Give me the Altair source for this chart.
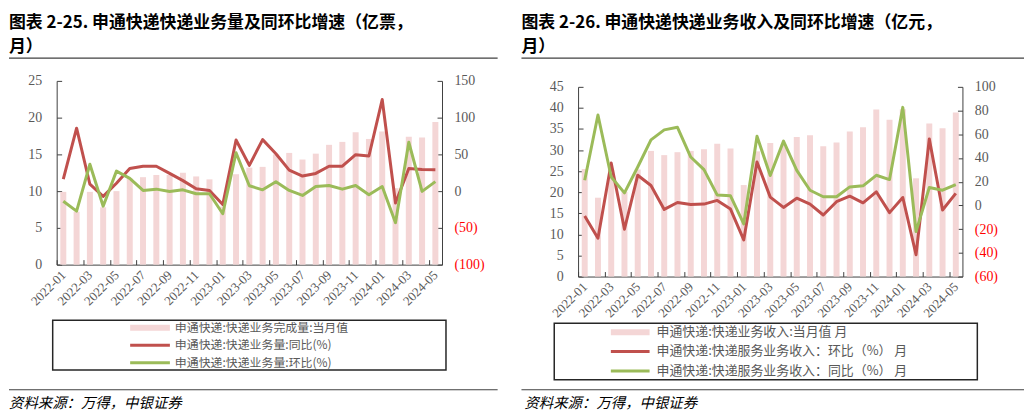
import altair as alt
import pandas as pd

months = ["2022-01", "2022-02", "2022-03", "2022-04", "2022-05", "2022-06",
          "2022-07", "2022-08", "2022-09", "2022-10", "2022-11", "2022-12",
          "2023-01", "2023-02", "2023-03", "2023-04", "2023-05", "2023-06",
          "2023-07", "2023-08", "2023-09", "2023-10", "2023-11", "2023-12",
          "2024-01", "2024-02", "2024-03", "2024-04", "2024-05"]
tick_months = ["2022-01", "2022-03", "2022-05", "2022-07", "2022-09", "2022-11",
               "2023-01", "2023-03", "2023-05", "2023-07", "2023-09", "2023-11",
               "2024-01", "2024-03", "2024-05"]

# left panel: volume (亿票) and growth (%)
vol_month = [9.9, 7.2, 9.9, 7.8, 10.0, 11.7, 11.9, 12.2, 12.2, 12.5, 12.0, 11.6,
             7.9, 12.3, 13.2, 13.3, 15.0, 15.2, 14.3, 15.1, 16.3, 16.7, 18.0, 17.1,
             18.1, 10.4, 17.4, 17.3, 19.4]
vol_yoy = [16.5, 85.7, 9.4, -7.1, 10.7, 30.8, 33.9, 33.9, 24.1, 14.3, 3.1, 0.9,
           -18.3, 69.6, 35.0, 70.1, 50.9, 28.6, 20.5, 24.1, 33.9, 33.9, 49.6, 47.8,
           124.6, -16.1, 30.8, 29.5, 29.0]
vol_mom = [-13.8, -27.2, 36.6, -20.5, 27.2, 17.4, 0.9, 2.7, -0.4, 1.8, -3.6, -3.6,
           -30.8, 52.2, 7.3, 1.8, 12.9, 0.9, -5.8, 6.3, 7.6, 2.7, 7.6, -4.9,
           6.3, -42.9, 66.5, -0.4, 12.9]

# right panel: revenue (亿元) and growth (%)
rev_month = [25.5, 18.7, 25.3, 20.1, 25.4, 29.8, 28.8, 29.5, 29.8, 30.2, 31.5, 30.4,
             21.7, 29.7, 31.7, 31.3, 33.1, 33.5, 30.9, 31.8, 34.4, 35.4, 39.6, 37.2,
             39.7, 23.3, 36.3, 35.2, 38.9]
rev_mom = [-8.9, -27.7, 35.8, -20.1, 25.4, 16.8, -3.4, 2.5, 0.8, 1.1, 4.2, -3.1,
           -29.1, 36.6, 7.0, -1.7, 6.1, 1.1, -8.1, 3.1, 7.8, 2.2, 11.5, -6.1,
           6.7, -41.6, 56.1, -3.9, 10.1]
rev_yoy = [21.2, 76.3, 24.0, 10.6, 32.4, 55.3, 63.7, 65.9, 40.8, 30.2, 8.7, 8.1,
           -15.6, 58.4, 25.2, 54.2, 29.6, 12.8, 7.3, 7.3, 15.6, 16.5, 25.4, 21.8,
           82.7, -22.1, 15.1, 12.8, 17.6]

left_title = ["图表 2-25. 申通快递快递业务量及同环比增速（亿票，", "月）"]
right_title = ["图表 2-26. 申通快递快递业务收入及同环比增速（亿元，", "月）"]
left_names = ["申通快递:快递业务完成量:当月值",
              "申通快递:快递业务量:同比(%)",
              "申通快递:快递业务量:环比(%)"]
right_names = ["申通快递:快递业务收入:当月值 月",
               "申通快递:快递服务业务收入：环比（%） 月",
               "申通快递:快递服务业务收入：同比（%） 月"]
source_text = "资料来源：万得，中银证券"

left_ticks = [0, 5, 10, 15, 20, 25]
left_rticks = [-100, -50, 0, 50, 100, 150]
right_ticks = [0, 5, 10, 15, 20, 25, 30, 35, 40, 45]
right_rticks = [-60, -40, -20, 0, 20, 40, 60, 80, 100]

PINK = "#F4D6D6"
RED = "#C0504D"
GREEN = "#9BBB59"
GRAY = "#595959"
AX = "#404040"
SERIF = "Liberation Serif"
CJK = "Noto Sans CJK SC"

one = pd.DataFrame({"k": [0]})


def hrule(x1, x2, y):
    return alt.Chart(one).mark_rule(color=AX, strokeWidth=1.2).encode(
        x=alt.value(x1), x2=alt.value(x2), y=alt.value(y))


def label(text, x, y, size, color, style="normal"):
    return alt.Chart(one).mark_text(
        text=text, align="left", baseline="middle", font=CJK, fontSize=size,
        color=color, fontStyle=style).encode(x=alt.value(x), y=alt.value(y))


def panel(bar_vals, s1, s2, names, title, W, H, top, ldom, lvals, rdom, rvals, g):
    step = W / len(months)
    xaxis = alt.Axis(values=tick_months, title=None, labelAngle=-45,
                     labelAlign="right", labelBaseline="middle",
                     labelFont=SERIF, labelFontSize=13, labelColor=GRAY,
                     labelPadding=13, tickSize={"expr": "-5"},
                     tickOffset=-step / 2, labelOffset=step / 2,
                     domainColor=AX, tickColor=AX, grid=False)
    X = alt.X("m:O", sort=months, title=None, axis=xaxis,
              scale=alt.Scale(paddingInner=0.55, paddingOuter=0.275))
    laxis = alt.Axis(orient="left", values=lvals, title=None, labelFont=SERIF,
                     labelFontSize=14, labelColor=GRAY, labelPadding=20,
                     tickSize={"expr": "-5"}, domainColor=AX, tickColor=AX,
                     grid=False)
    raxis = alt.Axis(orient="right", values=rvals, title=None, labelFont=SERIF,
                     labelFontSize=14, labelPadding=17, tickSize={"expr": "-5"},
                     domainColor=AX, tickColor=AX, grid=False,
                     labelExpr="datum.value < 0 ? '(' + (-datum.value) + ')' : '' + datum.value",
                     labelColor={"condition": {"test": "datum.value < 0", "value": "#FF0000"},
                                 "value": GRAY})
    bar_df = pd.DataFrame({"m": months, "v": bar_vals})
    df1 = pd.DataFrame({"m": months, "v": s1})
    df2 = pd.DataFrame({"m": months, "v": s2})
    lscale = alt.Scale(domain=ldom, nice=False, zero=False, range=[H, top])
    rscale = alt.Scale(domain=rdom, nice=False, zero=False, range=[H, top])

    bars = alt.Chart(bar_df).mark_bar(color=PINK).encode(
        x=X, y=alt.Y("v:Q", scale=lscale, axis=laxis))
    line1 = alt.Chart(df1).mark_line(color=g["c1"], strokeWidth=3, strokeJoin="round").encode(
        x=X, y=alt.Y("v:Q", scale=rscale, axis=raxis))
    line2 = alt.Chart(df2).mark_line(color=g["c2"], strokeWidth=3, strokeJoin="round").encode(
        x=X, y=alt.Y("v:Q", scale=rscale, axis=None))

    x1, x2 = g["rx"]
    box = alt.Chart(one).mark_rect(fillOpacity=0, stroke="#262626", strokeWidth=1.5).encode(
        x=alt.value(g["box"][0]), x2=alt.value(g["box"][1]),
        y=alt.value(g["box"][2]), y2=alt.value(g["box"][3]))
    sx1, sx2 = g["sw"]
    rows = g["rows"]
    sw_bar = alt.Chart(one).mark_rect(color=PINK).encode(
        x=alt.value(sx1), x2=alt.value(sx2), y=alt.value(rows[0] - 3), y2=alt.value(rows[0] + 3))
    sw_l1 = alt.Chart(one).mark_rule(color=g["c1"], strokeWidth=3).encode(
        x=alt.value(sx1), x2=alt.value(sx2), y=alt.value(rows[1]))
    sw_l2 = alt.Chart(one).mark_rule(color=g["c2"], strokeWidth=3).encode(
        x=alt.value(sx1), x2=alt.value(sx2), y=alt.value(rows[2]))
    texts = [label(names[i], g["lx"], rows[i], g["lfs"], GRAY) for i in range(3)]

    layers = [bars, line1, line2,
              hrule(x1, x2, g["top"]), hrule(x1, x2, g["bottom"]),
              box, sw_bar, sw_l1, sw_l2] + texts + [
              label(source_text, g["src"][0], g["src"][1], 14.5, "#000000", "italic")]
    return alt.layer(*layers).resolve_scale(y="independent").properties(
        width=W, height=H,
        title=alt.TitleParams(text=title, anchor="start", frame="group",
                              dx=g["tdx"], font=CJK, fontSize=17,
                              fontWeight="bold", color="#000000",
                              lineHeight=25, offset=1))


# both plot origins sit at page y = 78; the right panel's plot starts 6px lower
left = panel(vol_month, vol_yoy, vol_mom, left_names, left_title, 388, 185, 0,
             [0, 25], left_ticks, [-100, 150], left_rticks,
             {"c1": RED, "c2": GREEN, "rx": (-48, 444), "top": -23, "bottom": 311,
              "box": (-4, 392, 241, 291), "sw": (74, 114),
              "rows": [248.5, 266.2, 283.9], "lx": 119, "lfs": 12,
              "src": (-48, 325), "tdx": -48})
right = panel(rev_month, rev_mom, rev_yoy, right_names, right_title, 387, 197, 6,
              [0, 45], right_ticks, [-60, 100], right_rticks,
              {"c1": RED, "c2": GREEN, "rx": (-57, 449), "top": -23, "bottom": 311,
               "box": (-24, 402, 244, 301), "sw": (33, 72),
               "rows": [253, 272.5, 292], "lx": 79, "lfs": 13,
               "src": (-54, 325), "tdx": -57})

chart = alt.hconcat(left, right, spacing=22).properties(
    padding={"left": 0, "top": 4, "right": 0, "bottom": 0}).configure_view(strokeWidth=0)

chart.save("out.html", embed_options={"renderer": "svg", "actions": False})
